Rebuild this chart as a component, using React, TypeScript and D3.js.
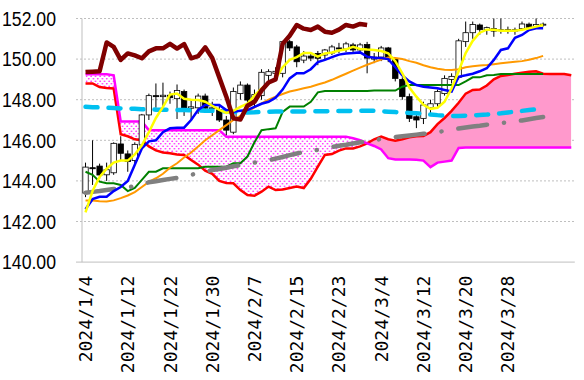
import React from 'react';
import * as d3 from 'd3';

// ---- categories (trading days) ----
const dates: string[] = [
  '2024/1/4','2024/1/5','2024/1/8','2024/1/9','2024/1/10','2024/1/11','2024/1/12','2024/1/15','2024/1/16','2024/1/17',
  '2024/1/18','2024/1/19','2024/1/22','2024/1/23','2024/1/24','2024/1/25','2024/1/26','2024/1/29','2024/1/30','2024/1/31',
  '2024/2/1','2024/2/2','2024/2/5','2024/2/6','2024/2/7','2024/2/8','2024/2/9','2024/2/12','2024/2/13','2024/2/14',
  '2024/2/15','2024/2/16','2024/2/19','2024/2/20','2024/2/21','2024/2/22','2024/2/23','2024/2/26','2024/2/27','2024/2/28',
  '2024/2/29','2024/3/1','2024/3/4','2024/3/5','2024/3/6','2024/3/7','2024/3/8','2024/3/11','2024/3/12','2024/3/13',
  '2024/3/14','2024/3/15','2024/3/18','2024/3/19','2024/3/20','2024/3/21','2024/3/22','2024/3/25','2024/3/26','2024/3/27',
  '2024/3/28','2024/3/29','2024/4/1','2024/4/2','2024/4/3','2024/4/4','','','',''
];
const yTicks = [140, 142, 144, 146, 148, 150, 152];

// ---- candles ----
const opens = [143.4,144.65,144.73,144.3,144.4,145.82,145.33,145.0,145.77,147.25,
  148.2,148.15,148.22,148.05,148.4,147.58,147.6,148.18,147.55,147.5,
  147.0,146.4,148.3,148.72,147.95,148.2,149.2,149.3,149.3,150.86,
  150.6,149.95,150.15,150.28,150.2,150.3,150.55,150.5,150.7,150.45,
  150.72,150.0,150.1,150.55,150.0,149.0,148.15,147.16,147.08,147.6,
  147.8,148.3,149.0,149.1,150.86,151.3,151.68,151.45,151.5,151.4,
  151.45,151.38,151.5,151.72,151.56,151.68];
const highs = [144.9,146.0,144.85,144.9,145.9,146.2,145.5,145.9,147.3,148.3,
  148.8,148.84,148.4,148.75,148.5,148.0,148.3,148.3,147.9,147.7,
  147.2,148.6,148.9,148.8,148.5,149.5,149.5,149.6,150.9,150.95,
  150.7,150.4,150.3,150.4,150.5,150.7,150.8,150.85,150.8,150.8,
  150.85,150.3,150.65,150.6,150.1,149.1,148.3,147.4,147.9,148.0,
  148.5,149.2,149.3,151.0,151.85,151.85,151.75,151.6,152.0,152.0,
  151.6,151.55,151.85,151.8,152.0,151.8];
const lows = [143.2,143.8,144.1,144.0,144.3,145.0,144.45,144.85,145.7,147.0,
  147.6,147.66,147.8,147.05,147.2,147.0,147.3,147.5,147.2,146.9,
  146.25,146.3,148.0,147.7,147.6,148.0,148.9,149.1,149.1,150.4,
  149.6,149.8,149.9,149.7,150.0,150.2,150.3,150.35,150.3,150.3,
  149.3,149.8,149.9,149.85,148.9,148.0,146.9,146.6,146.8,147.3,
  147.6,148.2,148.8,149.0,150.6,151.0,151.2,151.2,151.1,151.25,
  151.25,151.2,151.4,151.5,151.5,151.6];
const closes = [144.68,144.6,144.29,144.55,145.85,145.36,144.95,145.8,147.25,148.2,
  148.15,148.22,148.1,148.45,147.58,147.65,148.18,147.58,147.6,147.0,
  146.5,148.4,148.72,147.98,148.25,149.35,149.38,149.4,150.86,150.55,
  149.87,150.15,150.05,150.04,150.45,150.6,150.5,150.75,150.45,150.7,
  150.05,150.1,150.55,150.0,149.05,148.15,147.08,147.0,147.74,147.8,
  148.4,149.05,149.15,150.9,151.3,151.7,151.45,151.55,151.38,151.45,
  151.38,151.45,151.73,151.56,151.7,151.72];

// ---- lines ----
const yellowLine = [142.45,143.5,144.2,144.6,144.9,145.0,145.0,145.3,145.75,146.4,
  147.1,147.65,148.25,148.3,148.05,148.0,147.98,147.9,147.7,147.5,
  147.35,147.45,147.65,147.8,148.2,148.56,148.8,149.05,149.6,149.96,
  150.1,150.3,150.3,150.12,150.28,150.33,150.42,150.48,150.6,150.5,
  150.47,150.45,150.4,150.28,149.9,149.3,148.6,148.15,147.75,147.55,
  147.6,147.9,148.55,149.4,150.3,150.9,151.3,151.45,151.45,151.4,
  151.4,151.4,151.45,151.52,151.6,151.68];
const blueLine = [142.6,143.1,143.22,143.22,143.5,143.7,144.0,144.8,145.6,145.95,
  146.0,146.4,146.59,146.62,146.62,147.0,147.5,147.74,147.74,147.74,
  147.49,147.41,147.45,147.49,147.65,147.8,147.9,148.1,148.5,149.05,
  149.3,149.3,149.5,149.85,149.96,150.1,150.22,150.28,150.3,150.33,
  150.12,150.07,150.05,150.0,149.6,149.2,148.9,148.72,148.64,148.6,
  148.56,148.48,148.4,149.13,149.2,149.28,149.4,149.55,149.96,150.45,
  150.53,151.05,151.19,151.43,151.52,151.52];
const orangeLine = [143.03,143.03,143.0,142.98,143.04,143.15,143.28,143.45,143.7,143.95,
  144.13,144.35,144.65,144.87,145.15,145.4,145.7,146.0,146.25,146.5,
  146.75,147.0,147.2,147.41,147.62,147.82,148.0,148.15,148.28,148.4,
  148.48,148.56,148.64,148.75,148.85,148.98,149.13,149.28,149.43,149.58,
  149.72,149.85,149.98,150.08,150.05,150.0,149.9,149.82,149.7,149.6,
  149.52,149.48,149.46,149.5,149.6,149.65,149.68,149.71,149.75,149.79,
  149.83,149.87,149.9,149.97,150.05,150.16];
const greenLine = [144.45,144.3,143.96,143.88,143.88,143.8,143.5,143.65,144.05,144.45,
  144.45,144.62,144.62,144.62,144.62,144.62,144.62,144.7,144.7,144.7,
  144.7,144.87,144.87,145.2,145.9,146.5,146.55,146.59,147.4,147.66,
  147.66,147.66,147.9,148.36,148.43,148.43,148.43,148.43,148.43,148.43,
  148.43,148.45,148.45,148.45,148.45,148.64,148.72,148.72,148.72,148.72,
  148.72,148.72,148.72,148.72,148.9,149.1,149.1,149.2,149.22,149.27,
  149.27,149.27,149.27,149.27,149.27,149.27];
const cyanLine = [147.65,147.63,147.62,147.6,147.59,147.57,147.56,147.55,147.53,147.52,
  147.51,147.5,147.5,147.49,147.49,147.48,147.47,147.46,147.45,147.44,
  147.43,147.4,147.38,147.37,147.38,147.4,147.41,147.42,147.42,147.42,
  147.42,147.42,147.43,147.43,147.43,147.44,147.44,147.44,147.45,147.45,
  147.45,147.45,147.43,147.41,147.39,147.37,147.35,147.33,147.3,147.27,
  147.24,147.22,147.2,147.2,147.21,147.23,147.25,147.27,147.3,147.33,
  147.37,147.41,147.45,147.49,147.53,147.57];
const grayLine = [143.42,143.46,143.5,143.55,143.6,143.64,143.68,143.75,143.85,143.93,
  143.98,144.04,144.1,144.15,144.22,144.3,144.38,144.46,144.53,144.59,
  144.65,144.72,144.78,144.85,144.9,144.96,145.02,145.1,145.18,145.27,
  145.35,145.42,145.47,145.53,145.6,145.67,145.73,145.78,145.84,145.9,
  145.95,146.0,146.07,146.12,146.16,146.2,146.24,146.28,146.32,146.36,
  146.41,146.46,146.52,146.58,146.63,146.68,146.72,146.77,146.81,146.85,
  146.89,146.93,146.98,147.04,147.1,147.15];
const laggingLine = [149.36,149.38,149.4,150.82,150.6,149.96,150.28,150.18,150.04,150.38,
  150.53,150.53,150.75,150.52,150.74,150.04,150.15,150.58,150.05,149.1,
  148.15,147.08,147.02,147.7,147.9,148.45,148.85,149.0,150.75,151.15,
  151.68,151.5,151.43,151.6,151.35,151.3,151.45,151.68,151.6,151.73,151.68];
const spanA = [148.8,148.8,148.62,148.58,148.55,146.3,146.2,146.05,146.0,145.7,
  145.5,145.4,145.36,145.3,145.28,145.03,144.8,144.5,144.35,144.0,
  143.9,143.88,143.55,143.3,143.27,143.47,143.72,143.55,143.58,143.65,
  143.72,143.65,144.1,144.7,145.28,145.32,145.49,145.6,145.6,145.7,
  145.85,146.05,146.18,146.05,145.98,146.05,146.15,146.2,146.21,146.4,
  146.8,147.1,147.45,147.85,148.3,148.48,148.5,148.7,149.0,149.17,
  149.22,149.28,149.33,149.38,149.4,149.28,149.27,149.27,149.27,149.2];
const spanB = [149.25,149.25,149.25,149.25,149.2,146.92,146.92,146.92,146.92,146.5,
  146.5,146.5,146.5,146.5,146.5,146.5,146.5,146.5,146.5,146.5,
  146.18,146.18,146.18,146.18,146.18,146.18,146.18,146.18,146.18,146.18,
  146.18,146.18,146.18,146.18,146.18,146.18,146.18,146.18,146.1,146.0,
  145.85,145.72,145.55,145.12,145.06,145.06,145.05,145.04,145.0,144.68,
  144.9,144.95,145.0,145.62,145.65,145.65,145.65,145.65,145.65,145.65,
  145.65,145.65,145.65,145.65,145.65,145.65,145.65,145.65,145.65,145.65];

export default function App() {
  const W = 584, H = 380;
  const left = 82, right = 574.8, top = 18.5, bottom = 262.1;
  const x = d3.scaleBand<number>().domain(d3.range(dates.length)).range([left, right]);
  const y = d3.scaleLinear().domain([140, 152]).range([bottom, top]);
  const bw = x.bandwidth();
  const cx = (i: number) => (x(i) as number) + bw / 2;
  const line = d3.line<number>().x((_, i) => cx(i)).y(d => y(d));

  const between = d3.area<number>().x((_, i) => cx(i)).y0((_, i) => y(spanA[i])).y1(d => y(d))(spanB) || '';
  const aboveB = d3.area<number>().x((_, i) => cx(i)).y0(0).y1(d => y(d))(spanB) || '';
  const belowB = d3.area<number>().x((_, i) => cx(i)).y0(H).y1(d => y(d))(spanB) || '';

  const bodyW = 5.4;
  const tickIdx = d3.range(0, dates.length, 6).filter(i => dates[i] !== '');

  return (
    <svg width={W} height={H} style={{ position: 'absolute', left: 0, top: 0, background: '#fff' }}>
      <defs>
        <pattern id="dots" width={4.5} height={5} patternUnits="userSpaceOnUse">
          <rect width={4.5} height={5} fill="#fff" />
          <circle cx={1.1} cy={1.2} r={0.8} fill="#FF00FF" />
          <circle cx={3.35} cy={3.7} r={0.8} fill="#FF00FF" />
        </pattern>
        <clipPath id="clipAbove"><path d={aboveB} /></clipPath>
        <clipPath id="clipBelow"><path d={belowB} /></clipPath>
      </defs>
      {/* grid */}
      {yTicks.filter(t => t !== 140).map(t => (
        <line key={t} x1={76} x2={right} y1={y(t)} y2={y(t)} stroke="#BFBFBF" strokeWidth={1} strokeDasharray="2 2" />
      ))}
      <line x1={76} x2={right} y1={y(140)} y2={y(140)} stroke="#BFBFBF" strokeWidth={1} />
      <line x1={left} x2={left} y1={top} y2={bottom} stroke="#BFBFBF" strokeWidth={1} />
      {/* y labels */}
      {yTicks.map(t => (
        <text key={t} x={56} y={y(t) + 7.3} textAnchor="end" fontFamily="'Liberation Sans', Arial, sans-serif"
          fontSize={20.5} textLength={54} lengthAdjust="spacingAndGlyphs" fill="#000">{t.toFixed(2)}</text>
      ))}
      {/* x labels */}
      {tickIdx.map(i => (
        <text key={i} transform={`translate(${cx(i) + 6.5},275.6) rotate(-90)`} textAnchor="end"
          fontFamily="'DejaVu Sans Mono', monospace" fontSize={18} fill="#000">{dates[i]}</text>
      ))}
      {/* cloud */}
      <path d={between} fill="url(#dots)" clipPath="url(#clipBelow)" />
      <path d={between} fill="#FF99CC" clipPath="url(#clipAbove)" />
      <path d={line(spanA) || ''} fill="none" stroke="#FF0000" strokeWidth={2.5} />
      <path d={line(spanB) || ''} fill="none" stroke="#FF00FF" strokeWidth={2.5} />
      {/* candles */}
      {opens.map((o, i) => {
        const c = closes[i];
        const up = c >= o;
        const yt = y(Math.max(o, c)), yb = y(Math.min(o, c));
        return (
          <g key={i}>
            <line x1={cx(i)} x2={cx(i)} y1={y(highs[i])} y2={y(lows[i])} stroke="#000" strokeWidth={1} />
            <rect x={cx(i) - bodyW / 2} y={yt} width={bodyW} height={Math.max(1, yb - yt)}
              fill={up ? '#fff' : '#000'} stroke="#000" strokeWidth={0.8} />
          </g>
        );
      })}
      {/* lines */}
      <path d={line(greenLine) || ''} fill="none" stroke="#008000" strokeWidth={2} />
      <path d={line(orangeLine) || ''} fill="none" stroke="#FF9900" strokeWidth={2} />
      <path d={line(cyanLine) || ''} fill="none" stroke="#00C0F0" strokeWidth={4.5} strokeDasharray="12 11" strokeLinecap="round" />
      <path d={line(grayLine) || ''} fill="none" stroke="#808080" strokeWidth={4.5} strokeDasharray="29 17 0.1 17" strokeLinecap="round" />
      <path d={line(blueLine) || ''} fill="none" stroke="#0000FF" strokeWidth={2.5} />
      <path d={line(yellowLine) || ''} fill="none" stroke="#FFFF00" strokeWidth={2.5} />
      <path d={line(laggingLine) || ''} fill="none" stroke="#800000" strokeWidth={4.5} strokeLinejoin="round" />
    </svg>
  );
}
